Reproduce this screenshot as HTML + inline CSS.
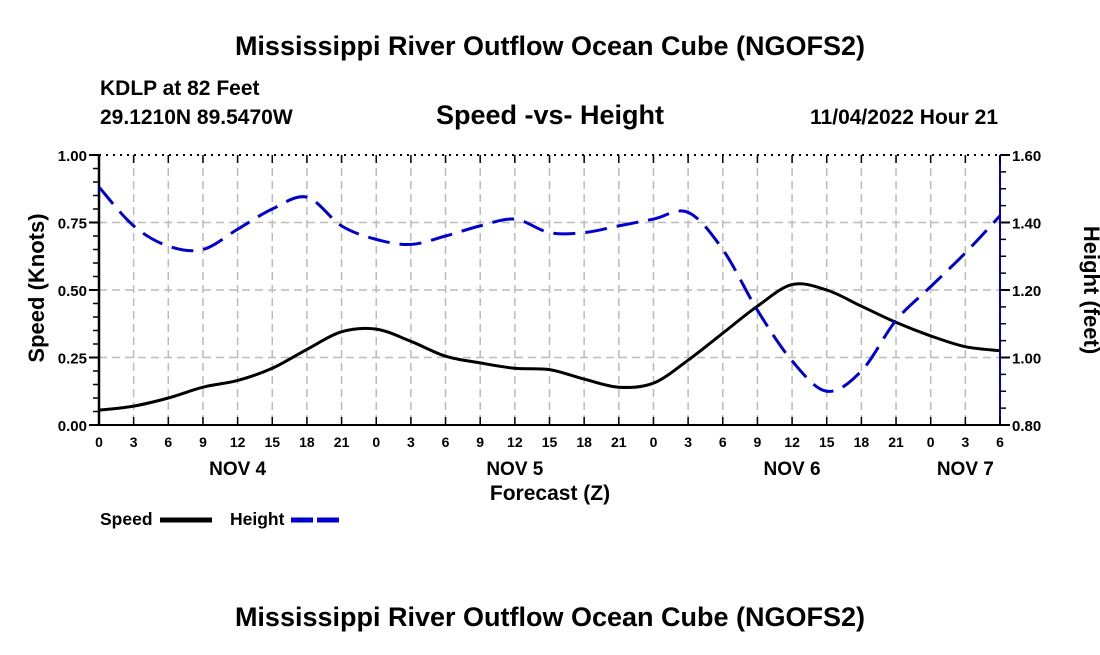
<!DOCTYPE html>
<html><head><meta charset="utf-8"><style>
body{margin:0;background:#fff;width:1100px;height:650px;overflow:hidden}
svg text{font-family:"Liberation Sans",Arial,sans-serif;font-weight:bold;fill:#000}
</style></head><body>
<svg id="c" width="1100" height="650">
<text x="550" y="55" font-size="27" text-anchor="middle">Mississippi River Outflow Ocean Cube (NGOFS2)</text>
<text x="100" y="95" font-size="21">KDLP at 82 Feet</text>
<text x="100" y="124" font-size="21">29.1210N  89.5470W</text>
<text x="550" y="124" font-size="27" text-anchor="middle">Speed -vs- Height</text>
<text x="998" y="124" font-size="21" text-anchor="end">11/04/2022 Hour 21</text>
<text x="550" y="626" font-size="27" text-anchor="middle">Mississippi River Outflow Ocean Cube (NGOFS2)</text>
<g id="g"></g>
</svg>
<script>
const hourLabels=[0,3,6,9,12,15,18,21,0,3,6,9,12,15,18,21,0,3,6,9,12,15,18,21,0,3,6];
const dayLabels=["NOV 4","NOV 5","NOV 6","NOV 7"];
const dayTickIdx=[4,12,20,25];
const speedTicks=[0,0.25,0.5,0.75,1.0];
const heightTicks=[0.8,1.0,1.2,1.4,1.6];
const speed=[0.055,0.07,0.10,0.14,0.165,0.21,0.28,0.345,0.355,0.31,0.255,0.23,0.21,0.205,0.17,0.14,0.155,0.24,0.34,0.44,0.52,0.50,0.44,0.38,0.33,0.29,0.275];
const height=[1.505,1.39,1.33,1.32,1.38,1.44,1.475,1.39,1.35,1.335,1.36,1.39,1.41,1.37,1.37,1.39,1.41,1.43,1.32,1.14,0.99,0.90,0.96,1.11,1.21,1.31,1.42];
const L=99,R=1000,T=155,B=425,NS="http://www.w3.org/2000/svg";
const xs=i=>L+(R-L)*i/(hourLabels.length-1);
const ys=v=>B-(B-T)*v/1.0;
const yh=v=>B-(B-T)*(v-0.8)/0.8;
const g=document.getElementById('g');
function mk(t,a,txt){const e=document.createElementNS(NS,t);for(const k in a)e.setAttribute(k,a[k]);if(txt!==undefined)e.textContent=txt;g.appendChild(e);return e;}
for(let i=1;i<hourLabels.length-1;i++){const e=mk('line',{x1:xs(i),x2:xs(i),y1:T,y2:B,stroke:'#bbb','stroke-width':1.5,'stroke-dasharray':'8,5'});

}
for(let j=1;j<speedTicks.length-1;j++){const e=mk('line',{x1:L,x2:R,y1:ys(speedTicks[j]),y2:ys(speedTicks[j]),stroke:'#bbb','stroke-width':1.5,'stroke-dasharray':'8,5'});

}
let a=mk('line',{x1:L,x2:R,y1:T,y2:T,stroke:'#000','stroke-width':2,'stroke-dasharray':'2,5'});


a=mk('line',{x1:L,x2:R,y1:B,y2:B,stroke:'#000','stroke-width':2});


a=mk('line',{x1:L,x2:L,y1:T,y2:B,stroke:'#000','stroke-width':2.5});


a=mk('line',{x1:R,x2:R,y1:T,y2:B,stroke:'#00c','stroke-width':2});


hourLabels.forEach((h,i)=>{
mk('line',{x1:xs(i),x2:xs(i),y1:B,y2:B-8,stroke:'#000','stroke-width':1.5});
mk('line',{x1:xs(i),x2:xs(i),y1:T,y2:T+8,stroke:'#000','stroke-width':1.5});
const t=mk('text',{x:xs(i),y:B+22,'font-size':14,'text-anchor':'middle'},h);

});
dayLabels.forEach((d,k)=>{const t=mk('text',{x:xs(dayTickIdx[k]),y:B+50,'font-size':19,'text-anchor':'middle'},d);

});
for(let v=0;v<=1.0001;v+=0.05){mk('line',{x1:L-6,x2:L,y1:ys(v),y2:ys(v),stroke:'#000','stroke-width':1.5});}
speedTicks.forEach(v=>{mk('line',{x1:L-10,x2:L,y1:ys(v),y2:ys(v),stroke:'#000','stroke-width':2});
const t=mk('text',{x:L-12,y:ys(v)+6,'font-size':15,'text-anchor':'end'},v.toFixed(2));

});
for(let v=0.8;v<=1.6001;v+=0.05){mk('line',{x1:R,x2:R+6,y1:yh(v),y2:yh(v),stroke:'#000','stroke-width':1.5});}
heightTicks.forEach(v=>{mk('line',{x1:R,x2:R+10,y1:yh(v),y2:yh(v),stroke:'#000','stroke-width':2});
const t=mk('text',{x:R+12,y:yh(v)+6,'font-size':15},v.toFixed(2));

});
let t=mk('text',{x:44,y:288,'font-size':22,'text-anchor':'middle',transform:'rotate(-90 44 288)'},'Speed (Knots)');


t=mk('text',{x:1084,y:290,'font-size':22,'text-anchor':'middle',transform:'rotate(90 1084 290)'},'Height (feet)');


t=mk('text',{x:550,y:500,'font-size':21,'text-anchor':'middle'},'Forecast (Z)');


function path(vals,fy){const p=vals.map((v,i)=>[xs(i),fy(v)]);let d='M'+p[0][0]+','+p[0][1];
for(let i=0;i<p.length-1;i++){const p0=p[Math.max(0,i-1)],p1=p[i],p2=p[i+1],p3=p[Math.min(p.length-1,i+2)];
d+=' C'+(p1[0]+(p2[0]-p0[0])/6)+','+(p1[1]+(p2[1]-p0[1])/6)+' '+(p2[0]-(p3[0]-p1[0])/6)+','+(p2[1]-(p3[1]-p1[1])/6)+' '+p2[0]+','+p2[1];}return d;}
let s=mk('path',{d:path(speed,ys),fill:'none',stroke:'#000','stroke-width':3});


s=mk('path',{d:path(height,yh),fill:'none',stroke:'#00c','stroke-width':3,'stroke-dasharray':'22,10'});


t=mk('text',{x:100,y:525,'font-size':17.5},'Speed');


s=mk('line',{x1:160,x2:212,y1:520,y2:520,stroke:'#000','stroke-width':5});


t=mk('text',{x:230,y:525,'font-size':17.5},'Height');


s=mk('line',{x1:291,x2:343,y1:520,y2:520,stroke:'#00c','stroke-width':5,'stroke-dasharray':'22,4'});


</script>
</body></html>
